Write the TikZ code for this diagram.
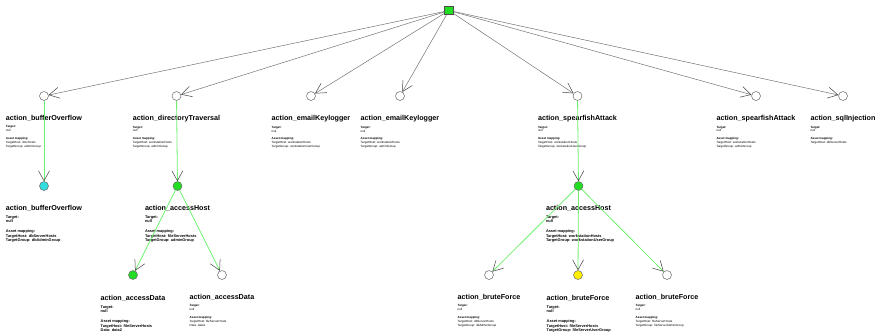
\documentclass[tikz,border=0pt]{standalone}
\usepackage{fontspec}
\setmainfont{Liberation Sans}
\usetikzlibrary{arrows.meta, positioning}

\definecolor{hitgreen}{RGB}{34,221,34}
\definecolor{hitcyan}{RGB}{51,221,221}
\definecolor{hityellow}{RGB}{255,240,0}
\definecolor{pathgreen}{RGB}{110,240,110}
\definecolor{edgegray}{RGB}{115,115,115}

\begin{document}
\begin{tikzpicture}[x=1bp, y=-1bp, every node/.style={inner sep=0pt},
  act/.style={circle, draw=black!60, fill=white, line width=0.5pt, minimum size=9pt},
  acttitle/.style={font=\fontsize{7.2}{8}\selectfont\bfseries},
  infosmall/.style={font=\fontsize{3}{4}\selectfont, align=left},
  infobig/.style={font=\fontsize{3.9}{4.7}\selectfont\bfseries, align=left},
  rootedge/.style={draw=edgegray, line width=0.5pt, -{Straight Barb[length=10pt, width=11pt, color=black!75]}},
  pathedge/.style={draw=pathgreen, line width=0.8pt, -{Straight Barb[length=10pt, width=11pt, color=black!75, line width=0.5pt]}}]

\useasboundingbox (0,0) rectangle (880,334);

% Root
\node[draw=black!70, fill=hitgreen, line width=0.5pt, minimum width=9pt, minimum height=8pt] (root) at (449,10.5) {};

% First row
\node[act] (bo1) at (44,96) {};
\node[act] (dt1) at (176.5,96) {};
\node[act] (ek1) at (311,96) {};
\node[act] (ek2) at (400,96) {};
\node[act] (sa1) at (577.5,96) {};
\node[act] (sa2) at (756,96) {};
\node[act] (si1) at (843,96) {};

\node[acttitle, below=14pt of bo1] (bo1t) {action\_bufferOverflow};
\node[infosmall, below right=4pt and 0pt of bo1t.south west] (bo1i) {\textbf{Target:}\\null\\[4pt]\textbf{Asset mapping:}\\TargetHost: dmzHosts\\TargetGroup: adminGroup};

\node[acttitle, below=14pt of dt1] (dt1t) {action\_directoryTraversal};
\node[infosmall, below right=4pt and 0pt of dt1t.south west] (dt1i) {\textbf{Target:}\\null\\[4pt]\textbf{Asset mapping:}\\TargetHost: workstationHosts\\TargetGroup: adminGroup};

\node[acttitle, below=14pt of ek1] (ek1t) {action\_emailKeylogger};
\node[infosmall, below right=4pt and 0pt of ek1t.south west] (ek1i) {\textbf{Target:}\\null\\[4pt]\textbf{Asset mapping:}\\TargetHost: workstationHosts\\TargetGroup: workstationUserGroup};

\node[acttitle, below=14pt of ek2] (ek2t) {action\_emailKeylogger};
\node[infosmall, below right=4pt and 0pt of ek2t.south west] (ek2i) {\textbf{Target:}\\null\\[4pt]\textbf{Asset mapping:}\\TargetHost: workstationHosts\\TargetGroup: adminGroup};

\node[acttitle, below=14pt of sa1] (sa1t) {action\_spearfishAttack};
\node[infosmall, below right=4pt and 0pt of sa1t.south west] (sa1i) {\textbf{Target:}\\null\\[4pt]\textbf{Asset mapping:}\\TargetHost: workstationHosts\\TargetGroup: workstationUserGroup};

\node[acttitle, below=14pt of sa2] (sa2t) {action\_spearfishAttack};
\node[infosmall, below right=4pt and 0pt of sa2t.south west] (sa2i) {\textbf{Target:}\\null\\[4pt]\textbf{Asset mapping:}\\TargetHost: workstationHosts\\TargetGroup: adminGroup};

\node[acttitle, below=14pt of si1] (si1t) {action\_sqlInjection};
\node[infosmall, below right=4pt and 0pt of si1t.south west] (si1i) {\textbf{Target:}\\null\\[4pt]\textbf{Asset mapping:}\\TargetHost: dbServerHosts};

% Second row
\node[act, fill=hitcyan] (bo2) at (44,186) {};
\node[act, fill=hitgreen] (ah1) at (177.5,186) {};
\node[act, fill=hitgreen] (ah2) at (578.5,186) {};

\node[acttitle, below=14pt of bo2] (bo2t) {action\_bufferOverflow};
\node[infobig, below right=4pt and 0pt of bo2t.south west] (bo2i) {Target:\\null\\[5pt]Asset mapping:\\TargetHost: dbServerHosts\\TargetGroup: dbAdminGroup};

\node[acttitle, below=14pt of ah1] (ah1t) {action\_accessHost};
\node[infobig, below right=4pt and 0pt of ah1t.south west] (ah1i) {Target:\\null\\[5pt]Asset mapping:\\TargetHost: fileServerHosts\\TargetGroup: adminGroup};

\node[acttitle, below=14pt of ah2] (ah2t) {action\_accessHost};
\node[infobig, below right=4pt and 0pt of ah2t.south west] (ah2i) {Target:\\null\\[5pt]Asset mapping:\\TargetHost: workstationHosts\\TargetGroup: workstationUserGroup};

% Third row
\node[act, fill=hitgreen] (ad1) at (133,275) {};
\node[act] (ad2) at (222,275) {};
\node[act] (bf1) at (489,275) {};
\node[act, fill=hityellow] (bf2) at (578,275) {};
\node[act] (bf3) at (667,275) {};

\node[acttitle, below=15pt of ad1] (ad1t) {action\_accessData};
\node[infobig, below right=4pt and 0pt of ad1t.south west] (ad1i) {Target:\\null\\[5pt]Asset mapping:\\TargetHost: fileServerHosts\\Data: data2};

\node[acttitle, below=14pt of ad2] (ad2t) {action\_accessData};
\node[infosmall, below right=4pt and 0pt of ad2t.south west] (ad2i) {\textbf{Target:}\\null\\[4pt]\textbf{Asset mapping:}\\TargetHost: fileServerHosts\\Data: data1};

\node[acttitle, below=14pt of bf1] (bf1t) {action\_bruteForce};
\node[infosmall, below right=4pt and 0pt of bf1t.south west] (bf1i) {\textbf{Target:}\\null\\[4pt]\textbf{Asset mapping:}\\TargetHost: dbServerHosts\\TargetGroup: dbAdminGroup};

\node[acttitle, below=15pt of bf2] (bf2t) {action\_bruteForce};
\node[infobig, below right=4pt and 0pt of bf2t.south west] (bf2i) {Target:\\null\\[5pt]Asset mapping:\\TargetHost: fileServerHosts\\TargetGroup: fileServerUserGroup};

\node[acttitle, below=14pt of bf3] (bf3t) {action\_bruteForce};
\node[infosmall, below right=4pt and 0pt of bf3t.south west] (bf3i) {\textbf{Target:}\\null\\[4pt]\textbf{Asset mapping:}\\TargetHost: fileServerHosts\\TargetGroup: fileServerAdminGroup};

% Root to first row
\draw[rootedge] (root) -- (bo1);
\draw[rootedge] (root) -- (dt1);
\draw[rootedge] (root) -- (ek1);
\draw[rootedge] (root) -- (ek2);
\draw[rootedge] (root) -- (sa1);
\draw[rootedge] (root) -- (sa2);
\draw[rootedge] (root) -- (si1);

% Attack paths
\draw[pathedge] (bo1) -- (bo2);
\draw[pathedge] (dt1) -- (ah1);
\draw[pathedge] (sa1) -- (ah2);

\draw[pathedge] (ah1) -- (ad1);
\draw[pathedge] (ah1) -- (ad2);

\draw[pathedge] (ah2) -- (bf1);
\draw[pathedge] (ah2) -- (bf2);
\draw[pathedge] (ah2) -- (bf3);

\end{tikzpicture}
\end{document}
